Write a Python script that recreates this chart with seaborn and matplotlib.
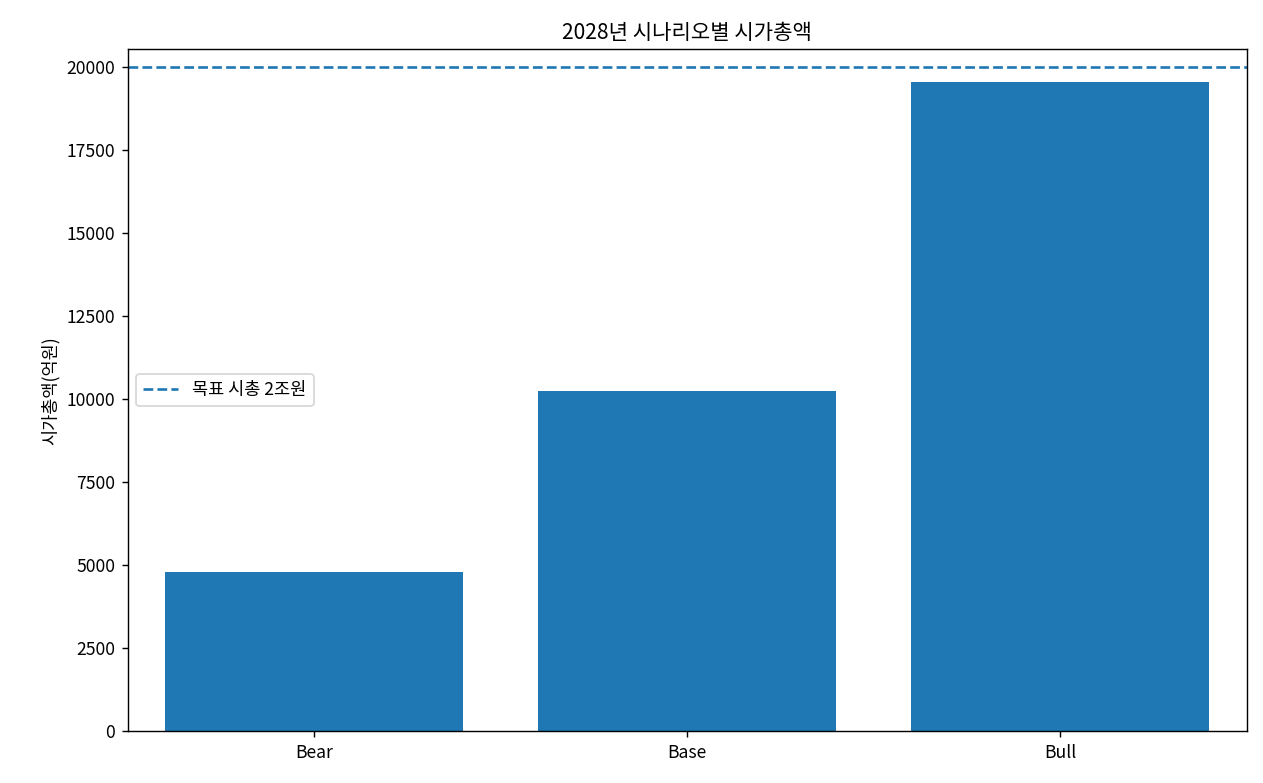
import matplotlib
matplotlib.use("Agg")
import matplotlib.pyplot as plt
import seaborn as sns
import pandas as pd

scenarios = ["Bear", "Base", "Bull"]
market_cap = [4800, 10250, 19550]
target = 20000

plt.rcParams['font.family'] = ['Noto Sans CJK KR', 'DejaVu Sans']
plt.rcParams['axes.unicode_minus'] = False

fig, ax = plt.subplots(figsize=(10, 6.2), dpi=126.3)
df = pd.DataFrame({"s": scenarios, "v": market_cap})
sns.barplot(data=df, x="s", y="v", color="#1f77b4", saturation=1, width=0.8, ax=ax)
ax.axhline(target, linestyle="--", color="#1f77b4", label="목표 시총 2조원")
ax.set_title("2028년 시나리오별 시가총액")
ax.set_ylabel("시가총액(억원)")
ax.set_xlabel("")
ax.legend(loc="center left")
fig.subplots_adjust(left=0.101, right=0.987, top=0.937, bottom=0.066)
fig.savefig("out.png")
